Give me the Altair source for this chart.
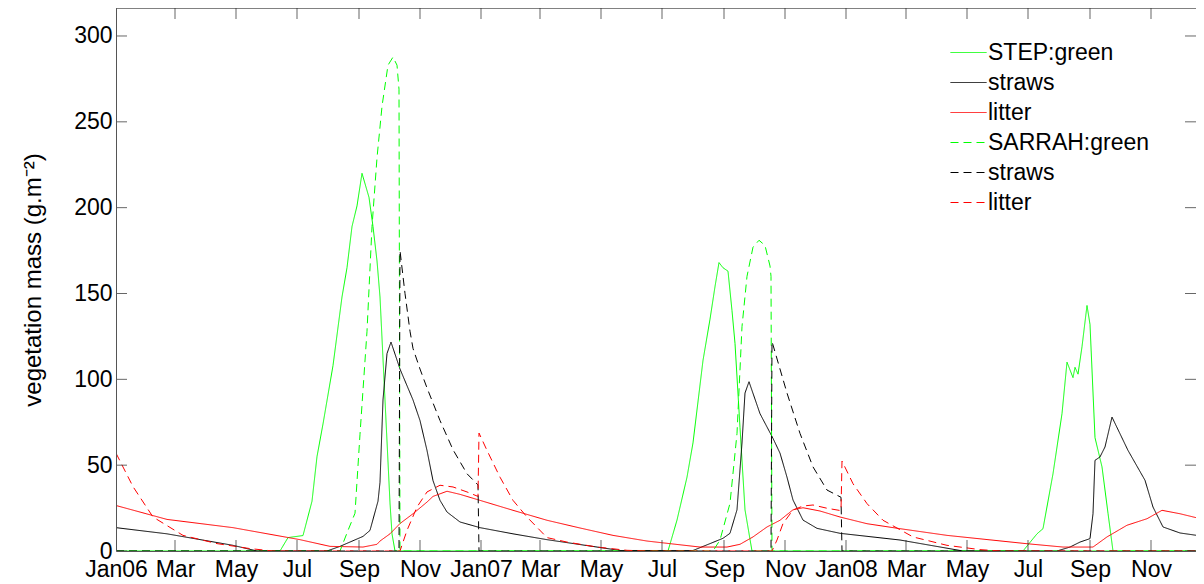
import altair as alt
import pandas as pd

# ---- STEP model (solid lines) ----
step_green_dates = [
    "2006-01-01", "2006-06-14", "2006-06-22", "2006-07-07", "2006-07-16", "2006-07-21", "2006-07-27",
    "2006-08-06", "2006-08-15", "2006-08-20", "2006-08-25", "2006-08-30", "2006-09-04", "2006-09-11",
    "2006-09-15", "2006-09-19", "2006-09-22", "2006-09-27", "2006-10-02", "2006-10-04", "2006-10-07",
    "2007-07-07", "2007-07-16", "2007-07-26", "2007-08-01", "2007-08-11", "2007-08-18", "2007-08-23",
    "2007-08-27", "2007-08-31", "2007-09-05", "2007-09-09", "2007-09-12", "2007-09-17", "2007-09-22",
    "2007-09-29",
    "2008-06-26", "2008-07-10", "2008-07-16", "2008-07-26", "2008-08-04", "2008-08-09", "2008-08-15",
    "2008-08-17", "2008-08-20", "2008-08-24", "2008-08-29", "2008-09-01", "2008-09-06", "2008-09-13",
    "2008-09-19", "2008-09-24", "2008-12-31"]
step_green = [
    0, 0, 7.8, 9, 29, 55, 74, 108, 148, 165, 189, 201, 220, 206, 189, 169, 148, 88, 28, 10, 0,
    0, 18, 43, 63, 111, 135, 154, 168, 165, 163, 140, 121, 72, 24, 0,
    0, 10, 13, 45, 80, 110, 101, 107, 103, 119, 143, 132, 66, 49, 22, 0, 0]

step_straws_dates = [
    "2006-01-01", "2006-02-21", "2006-04-28", "2006-05-22", "2006-07-31", "2006-08-13", "2006-09-05",
    "2006-09-12", "2006-09-20", "2006-09-22", "2006-09-25", "2006-09-29", "2006-10-03", "2006-10-12",
    "2006-10-25", "2006-11-01", "2006-11-08", "2006-11-14", "2006-11-21", "2006-11-28", "2006-12-11",
    "2006-12-31",
    "2007-02-02", "2007-03-08", "2007-04-27", "2007-05-20", "2007-08-01", "2007-08-18", "2007-08-31",
    "2007-09-07", "2007-09-14", "2007-09-19", "2007-09-22", "2007-09-26", "2007-10-07", "2007-10-20",
    "2007-10-27", "2007-11-03", "2007-11-09", "2007-11-19", "2007-12-03", "2007-12-26",
    "2008-02-24", "2008-04-27", "2008-07-30", "2008-08-12", "2008-08-22", "2008-09-01", "2008-09-04",
    "2008-09-06", "2008-09-11", "2008-09-16", "2008-09-23", "2008-10-01", "2008-10-09", "2008-10-26",
    "2008-11-03", "2008-11-13", "2008-11-30", "2008-12-24", "2008-12-31"]
step_straws = [
    13.6, 10, 3.3, 0, 0, 2.7, 8.5, 12, 29, 40, 88, 115, 121.7, 106, 88, 76, 58.6, 41, 29.5, 22.7, 16.9, 13.6,
    10, 6.6, 2.3, 0.3, 0.3, 4.3, 7.4, 10.3, 24, 63, 92, 98.6, 80, 65.6, 57, 43, 29.7, 18, 13.2, 10.3,
    6.4, 0, 0, 2.3, 5.2, 7.2, 21.7, 52.8, 54.8, 60.6, 78, 68.3, 58.6, 41.2, 25.6, 14, 10.5, 8.5, 8]

step_litter_dates = [
    "2006-01-01", "2006-02-21", "2006-04-28", "2006-07-04", "2006-08-03", "2006-09-05", "2006-09-19",
    "2006-09-22", "2006-10-02", "2006-10-12", "2006-10-25", "2006-11-08", "2006-11-14", "2006-11-28",
    "2006-12-11", "2006-12-31",
    "2007-02-02", "2007-03-08", "2007-04-10", "2007-05-13", "2007-06-16", "2007-08-08", "2007-09-04",
    "2007-09-17", "2007-09-30", "2007-10-14", "2007-10-27", "2007-11-09", "2007-11-19", "2007-12-06",
    "2007-12-26",
    "2008-01-22", "2008-02-24", "2008-04-11", "2008-06-29", "2008-08-05", "2008-09-04", "2008-09-18",
    "2008-10-08", "2008-10-28", "2008-11-12", "2008-11-30", "2008-12-24", "2008-12-31"]
step_litter = [
    26.5, 18.4, 13.6, 6.6, 2.7, 2.3, 3.9, 5.8, 10, 16, 21.7, 28.5, 31.8, 34.8, 33, 29.5,
    23.7, 17.9, 13.4, 9.1, 5.8, 2.3, 2.3, 3.9, 8.2, 14, 17.9, 24, 25.2, 23.3, 19.8,
    15.9, 13, 9.1, 4.3, 2.3, 2.3, 8.2, 15, 18.8, 23.7, 21.7, 18.3, 17.5]

# ---- SARRAH model (dashed lines) ----
sarrah_green_dates = [
    "2006-01-01", "2006-08-13", "2006-08-21", "2006-08-28", "2006-09-02", "2006-09-09", "2006-09-14",
    "2006-09-19", "2006-09-24", "2006-09-30", "2006-10-05", "2006-10-09", "2006-10-11", "2006-10-12",
    "2007-08-21", "2007-08-28", "2007-09-07", "2007-09-14", "2007-09-19", "2007-09-24", "2007-09-30",
    "2007-10-06", "2007-10-12", "2007-10-17", "2007-10-18", "2007-10-19", "2008-12-31"]
sarrah_green = [
    0, 0, 12, 22, 68, 128, 189, 229, 259, 283, 287.7, 283, 269, 0,
    0, 6.4, 27.8, 68.5, 130.7, 160, 177, 181, 178, 166, 160, 0, 0]

sarrah_straws_dates = [
    "2006-01-01", "2006-10-11", "2006-10-12", "2006-10-17", "2006-10-22", "2006-10-25", "2006-11-01",
    "2006-11-08", "2006-11-21", "2006-12-04", "2006-12-18", "2006-12-29", "2006-12-30",
    "2007-10-18", "2007-10-19", "2007-11-03", "2007-11-16", "2007-11-29", "2007-12-13", "2007-12-27",
    "2007-12-28", "2008-12-31"]
sarrah_straws = [
    0, 0, 175, 150, 128, 118, 106, 95, 76, 59, 45, 38.5, 0,
    0, 122, 92, 68.5, 49, 35.5, 31.3, 0, 0]

sarrah_litter_dates = [
    "2006-01-01", "2006-01-18", "2006-02-07", "2006-03-09", "2006-04-12", "2006-05-15", "2006-06-07",
    "2006-10-12", "2006-10-19", "2006-10-29", "2006-11-08", "2006-11-21", "2006-12-04", "2006-12-18",
    "2006-12-29", "2006-12-30",
    "2007-01-07", "2007-01-20", "2007-02-02", "2007-02-16", "2007-03-08", "2007-03-28", "2007-04-27",
    "2007-05-27", "2007-06-16", "2007-10-19", "2007-10-24", "2007-10-30", "2007-11-09", "2007-11-19",
    "2007-11-29", "2007-12-13", "2007-12-27", "2007-12-28",
    "2008-01-08", "2008-01-22", "2008-02-07", "2008-02-24", "2008-03-08", "2008-04-11", "2008-05-14",
    "2008-06-03", "2008-12-31"]
sarrah_litter = [
    57, 37.5, 19.8, 9.1, 4.3, 1.4, 0, 0, 12, 25.6, 34.4, 38.3, 37.3, 34.4, 31.8, 68.7,
    58.6, 43, 29.5, 19.8, 7.8, 5.2, 2.3, 0.4, 0, 0, 6.4, 16, 23.9, 26.2, 26.8, 24.9, 23.5, 52.4,
    39.2, 27.6, 17.9, 12.4, 8.2, 3.3, 0.8, 0, 0]

series_keys = ["STEP:green", "STEP:straws", "STEP:litter",
               "SARRAH:green", "SARRAH:straws", "SARRAH:litter"]
series_colors = ["#00ff00", "#000000", "#ff0000", "#00ff00", "#000000", "#ff0000"]
series_dash = [[1, 0], [1, 0], [1, 0], [8, 5], [8, 5], [8, 5]]

tick_months = [
    "2006-01-01", "2006-03-01", "2006-05-01", "2006-07-01", "2006-09-01", "2006-11-01",
    "2007-01-01", "2007-03-01", "2007-05-01", "2007-07-01", "2007-09-01", "2007-11-01",
    "2008-01-01", "2008-03-01", "2008-05-01", "2008-07-01", "2008-09-01", "2008-11-01"]
y_ticks = [0, 50, 100, 150, 200, 250, 300]
x_start, x_end = "2006-01-01", "2008-12-16"
y_top = 316.3

FONT = "Liberation Sans"
FS = 23
AXC = "#262626"
DOMC = "#555555"

all_series = [
    (step_green_dates, step_green), (step_straws_dates, step_straws), (step_litter_dates, step_litter),
    (sarrah_green_dates, sarrah_green), (sarrah_straws_dates, sarrah_straws),
    (sarrah_litter_dates, sarrah_litter)]
frames = []
for key, (d, v) in zip(series_keys, all_series):
    assert len(d) == len(v), key
    frames.append(pd.DataFrame({"date": d, "v": v, "series": key}))
data = pd.concat(frames, ignore_index=True)


def dt(s):
    t = pd.Timestamp(s)
    return alt.DateTime(year=t.year, month=t.month, date=t.day, utc=True)


x_scale = alt.Scale(type="utc", domain=[dt(x_start), dt(x_end)])
y_scale = alt.Scale(domain=[0, y_top], nice=False)

x_axis = alt.Axis(
    values=[dt(m) for m in tick_months],
    labelExpr="utcFormat(datum.value, '%m') == '01' ? utcFormat(datum.value, '%b%y') : utcFormat(datum.value, '%b')",
    labelFontSize=FS, labelPadding=7, labelColor="black", labelFlush=False, labelOverlap=False,
    ticks=False, domain=True, domainColor=DOMC, grid=False, title=None, zindex=1)
y_axis = alt.Axis(
    values=y_ticks, labelFontSize=FS, labelPadding=4, labelColor="black",
    ticks=False, domain=True, domainColor=DOMC, grid=False, zindex=1,
    title="vegetation mass (g.m⁻²)", titleFontSize=24, titleFontWeight="normal", titleColor="black",
    titleX=-83, titleY=271.5, titleAngle=270, titleAlign="center", titleBaseline="middle")

# the second "straws"/"litter" entries drop their model prefix, as in the original legend
legend = alt.Legend(
    orient="none", legendX=841, legendY=33, padding=0,
    symbolType="M-1.8,0H1.8", symbolSize=400, symbolStrokeWidth=1,
    labelFontSize=FS, labelColor="black", labelOffset=8, rowPadding=6, labelLimit=400,
    labelExpr="(datum.label == 'STEP:green' || datum.label == 'SARRAH:green') ? datum.label : "
              "replace(replace(datum.label, 'SARRAH:', ''), 'STEP:', '')")

lines = alt.Chart(data).mark_line(strokeWidth=1, clip=True).encode(
    x=alt.X("date:T", scale=x_scale, axis=x_axis),
    y=alt.Y("v:Q", scale=y_scale, axis=y_axis),
    color=alt.Color("series:N", scale=alt.Scale(domain=series_keys, range=series_colors),
                    legend=legend, title=None),
    strokeDash=alt.StrokeDash("series:N", scale=alt.Scale(domain=series_keys, range=series_dash),
                              legend=legend, title=None),
)

# inward tick marks (MATLAB style), clipped to the plot box
bottom_df = pd.DataFrame({"date": tick_months, "v": 0.0})
top_df = pd.DataFrame({"date": tick_months, "v": y_top})
left_df = pd.DataFrame({"date": x_start, "v": y_ticks})
right_df = pd.DataFrame({"date": x_end, "v": y_ticks})


def tick_layer(df, orient):
    return alt.Chart(df).mark_tick(orient=orient, size=22, thickness=1, color=AXC, clip=True).encode(
        x=alt.X("date:T", axis=x_axis),
        y=alt.Y("v:Q", axis=y_axis),
    )


# top edge of the box
top_edge = alt.Chart(pd.DataFrame({"v": [y_top]})).mark_rule(color=AXC, strokeWidth=1).encode(
    y=alt.Y("v:Q", axis=y_axis)
)

chart = alt.layer(
    lines,
    tick_layer(bottom_df, "vertical"),
    tick_layer(top_df, "vertical"),
    tick_layer(left_df, "horizontal"),
    tick_layer(right_df, "horizontal"),
    top_edge,
).properties(
    width=1080, height=543,
    padding={"left": 108, "top": 0, "right": 0, "bottom": 33},
    autosize=alt.AutoSizeParams(type="none"),
).configure_view(
    stroke=None
).configure(
    font=FONT
)

chart.save("out.html", embed_options={"renderer": "svg", "actions": False})
